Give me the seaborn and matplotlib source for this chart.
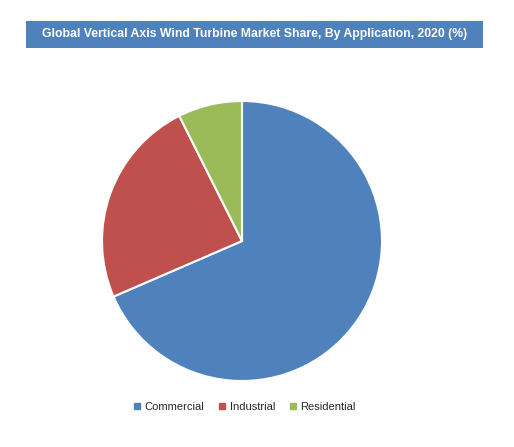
import matplotlib
matplotlib.use("Agg")
import matplotlib.pyplot as plt
from matplotlib.patches import Rectangle
from matplotlib.lines import Line2D
import seaborn as sns

# values (% share, 2020)
applications = ["Commercial", "Industrial", "Residential"]
share = [68.5, 24.1, 7.4]
title = "Global Vertical Axis Wind Turbine Market Share, By Application, 2020 (%)"

sns.set_theme(style="white")
plt.rcParams['font.family'] = ['Liberation Sans', 'DejaVu Sans']
colors = sns.color_palette(["#4F81BD", "#C0504D", "#9BBB59"])

W, H = 514, 447
fig = plt.figure(figsize=(W / 100, H / 100), dpi=100)
fig.patch.set_facecolor("white")

# title banner
fig.patches.append(Rectangle((26 / W, 1 - 48 / H), 457 / W, 27 / H,
                             transform=fig.transFigure, facecolor="#4F81BD",
                             edgecolor="none", zorder=0))
fig.text(254.5 / W, 1 - 34.5 / H, title, ha="center", va="center",
         color="white", fontsize=8.8, fontweight="bold")

# pie
ax = fig.add_axes([102 / W, 1 - 381 / H, 280 / W, 280 / H])
ax.pie(share, colors=colors, startangle=90, counterclock=False,
       wedgeprops=dict(edgecolor="white", linewidth=1.5))
ax.set_xlim(-1, 1)
ax.set_ylim(-1, 1)
ax.set_aspect("equal")
ax.axis("off")

handles = [Line2D([], [], marker="s", linestyle="none", markersize=4.5,
                  markerfacecolor=c, markeredgecolor=c) for c in colors]
fig.legend(handles, applications, loc="center", bbox_to_anchor=(244 / W, 1 - 407 / H),
           ncol=3, frameon=False, fontsize=8, handletextpad=0.3,
           columnspacing=1.2, handlelength=0.8)

fig.savefig("out.png", dpi=100)
